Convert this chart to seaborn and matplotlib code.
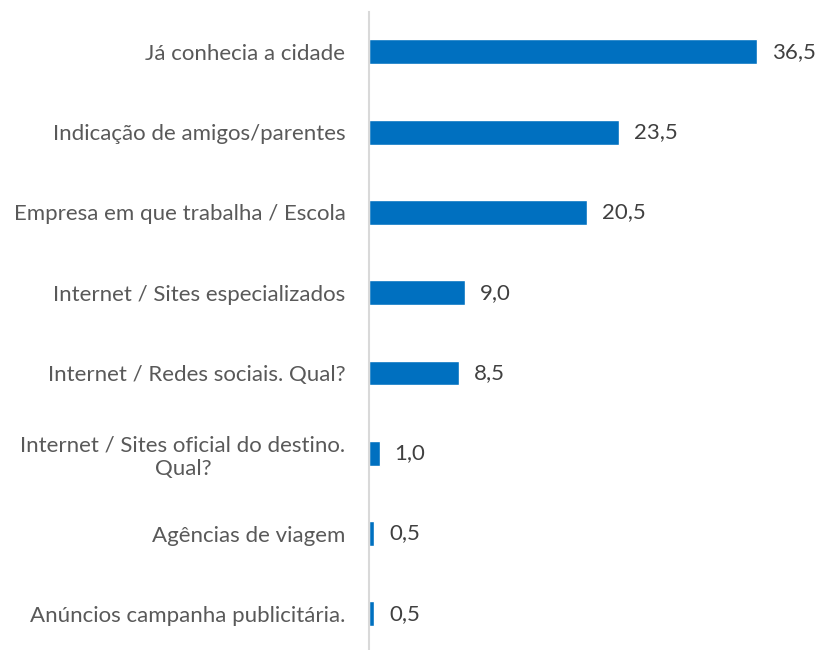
import matplotlib
matplotlib.use("Agg")
import matplotlib.pyplot as plt
import pandas as pd
import seaborn as sns

categories = [
    "Já conhecia a cidade",
    "Indicação de amigos/parentes",
    "Empresa em que trabalha / Escola",
    "Internet / Sites especializados",
    "Internet / Redes sociais. Qual?",
    "Internet / Sites oficial do destino.\nQual?",
    "Agências de viagem",
    "Anúncios campanha publicitária.",
]
values = [36.5, 23.5, 20.5, 9.0, 8.5, 1.0, 0.5, 0.5]

df = pd.DataFrame({"categoria": categories, "valor": values})

sns.set_style("white")
plt.rcParams["font.family"] = ["Lato", "DejaVu Sans"]

fig = plt.figure(figsize=(8.2, 6.5), dpi=100)
ax = fig.add_axes([0.45, 0.0, 0.532, 0.982])

sns.barplot(data=df, y="categoria", x="valor", orient="h", color="#0070C0",
            width=0.31, saturation=1, ax=ax)

for i, v in enumerate(values):
    ax.text(v + 1.4, i, f"{v:.1f}".replace(".", ","), va="center", ha="left",
            fontsize=16, color="#404040")

ax.set_xlim(0, 41)
ax.set_ylim(7.45, -0.5)
ax.set_xlabel("")
ax.set_ylabel("")
ax.set_xticks([])
ax.tick_params(axis="y", length=0, pad=17, labelsize=16, labelcolor="#595959")
for lbl in ax.get_yticklabels():
    lbl.set_multialignment("center")
    lbl.set_linespacing(1.25)

for s in ["top", "right", "bottom"]:
    ax.spines[s].set_visible(False)
ax.spines["left"].set_color("#D9D9D9")
ax.spines["left"].set_linewidth(1.5)

fig.savefig("out.png", dpi=100)
